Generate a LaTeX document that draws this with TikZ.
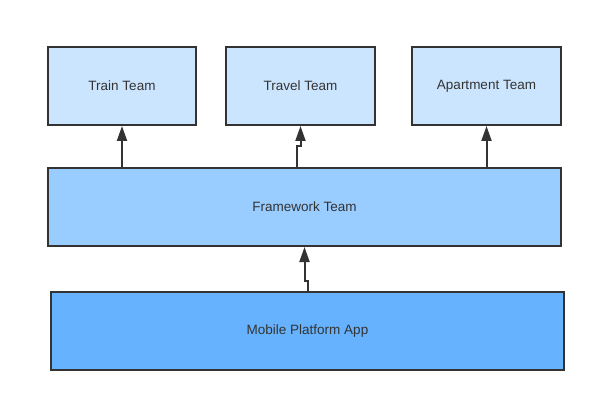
\documentclass[tikz,border=0pt]{standalone}
\usepackage{fontspec}
\setmainfont{Liberation Sans}
\usetikzlibrary{arrows.meta}
\definecolor{c1}{HTML}{CCE5FF}
\definecolor{c2}{HTML}{99CCFF}
\definecolor{c3}{HTML}{66B2FF}
\definecolor{ink}{HTML}{333333}
\begin{document}
\begin{tikzpicture}[x=1pt,y=-1pt,
  box/.style={draw=ink,line width=2pt,inner sep=0pt,text=ink,font=\fontsize{13.5}{16}\selectfont},
  arr/.style={draw=ink,line width=2pt,-{Triangle[length=15pt,width=10pt]}}]
\useasboundingbox (0,0) rectangle (596,403);
\node[box,fill=c1,minimum width=148pt,minimum height=78pt] (train) at (122,86) {Train Team};
\node[box,fill=c1,minimum width=149pt,minimum height=78pt] (travel) at (300.5,86) {Travel Team};
\node[box,fill=c1,minimum width=149pt,minimum height=78pt] (apt) at (486.5,86) {Apartment Team};
\node[box,fill=c2,minimum width=513pt,minimum height=78pt] (fw) at (304.5,207) {Framework Team};
\node[box,fill=c3,minimum width=513pt,minimum height=78pt] (app) at (307.5,331) {Mobile Platform App};
\draw[arr] (train.south |- fw.north) -- (train.south);
\coordinate (t1) at (297,168);
\draw[arr] (t1) -- (297,146) -- (travel.south |- 0,146) -- (travel.south);
\draw[arr] (apt.south |- fw.north) -- (apt.south);
\coordinate (m1) at (308,292);
\draw[arr] (m1) -- (308,281) -- (fw.south |- 0,281) -- (fw.south);
\end{tikzpicture}
\end{document}
